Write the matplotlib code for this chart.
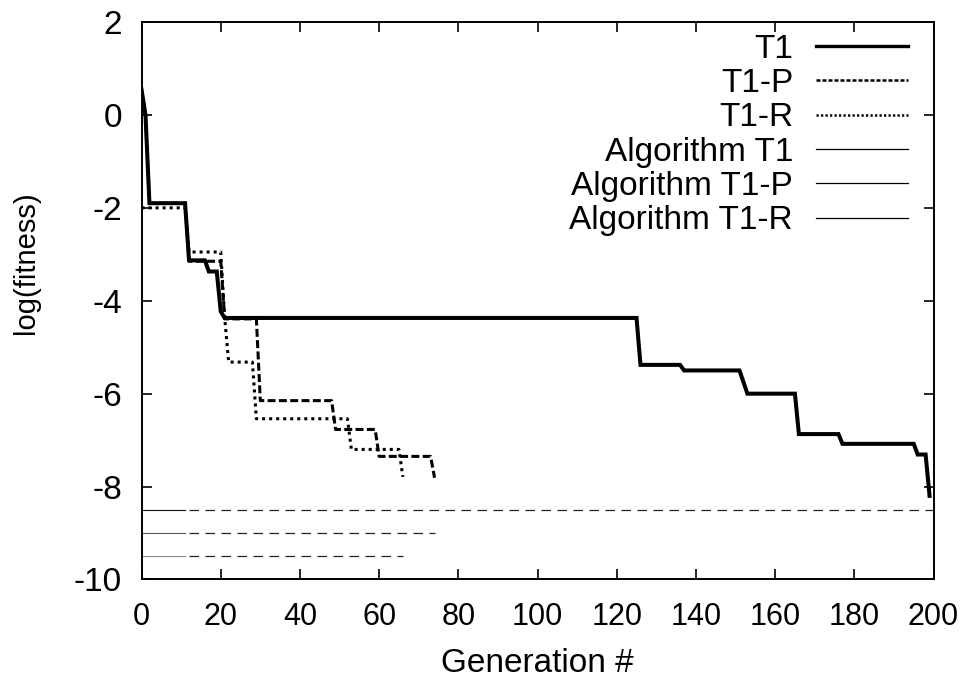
import numpy as np
import matplotlib
matplotlib.use("Agg")
import matplotlib.pyplot as plt
from matplotlib.lines import Line2D

plt.rcParams['font.family'] = ['Liberation Sans', 'DejaVu Sans']
plt.rcParams['axes.unicode_minus'] = False

# best fitness per run, given at the generations where it changes
t1_gen = [0, 1, 2, 11, 12, 16, 17, 19, 20, 21, 125, 126, 136, 137, 151, 153,
          165, 166, 176, 177, 195, 196, 198, 199]
t1_fit = [0.55, 0.0, -1.9, -1.9, -3.13, -3.13, -3.37, -3.37, -4.23, -4.37, -4.37, -5.38,
          -5.38, -5.5, -5.5, -6.0, -6.0, -6.87, -6.87, -7.08, -7.08, -7.31, -7.31, -8.2]

t1p_gen = [0, 1, 2, 11, 12, 20, 21, 29, 30, 48, 49, 59, 60, 73, 74]
t1p_fit = [0.55, 0.0, -1.9, -1.9, -3.15, -3.15, -4.39, -4.39, -6.15, -6.15, -6.77,
           -6.77, -7.35, -7.35, -7.81]

t1r_gen = [0, 11, 12, 20, 21, 22, 28, 29, 52, 53, 65, 66]
t1r_fit = [-2.0, -2.0, -2.95, -2.95, -4.37, -5.32, -5.32, -6.54, -6.54, -7.2, -7.2, -7.79]

# reference levels for the algorithm runs and the last generation each reached
alg_labels = ['Algorithm T1', 'Algorithm T1-P', 'Algorithm T1-R']
alg_level = [-8.5, -9.0, -9.5]
alg_end = [200, 74, 66]

fig = plt.figure(figsize=(9.7, 6.82), dpi=100)
ax = fig.add_axes([0.1459, 0.1503, 0.8165, 0.8174])

ax.plot(t1_gen, t1_fit, color='black', lw=2.9, solid_joinstyle='miter')
ax.plot(t1p_gen, t1p_fit, color='black', lw=2.2, ls=(0, (2.6, 1.1)),
        dash_capstyle='butt')
ax.plot(t1r_gen, t1r_fit, color='black', lw=2.2, ls=(0, (1.0, 1.3)),
        dash_capstyle='butt')

solid_until = 11
solid_cols = ['#111111', '#555555', '#888888']
for lev, end, sc in zip(alg_level, alg_end, solid_cols):
    ax.plot([0, solid_until], [lev, lev], color=sc, lw=0.8)
    ax.plot([solid_until + 1, end], [lev, lev], color='#222222', lw=0.9,
            ls=(0, (7.6, 5.2)))

# key samples are drawn a bit finer than the curves
handles = [
    Line2D([], [], color='black', lw=2.4),
    Line2D([], [], color='black', lw=1.8, ls=(0, (1.6, 0.8)), dash_capstyle='butt'),
    Line2D([], [], color='black', lw=1.8, ls=(0, (0.9, 0.9)), dash_capstyle='butt'),
] + [Line2D([], [], color='black', lw=0.9) for _ in alg_labels]
labels = ['T1', 'T1-P', 'T1-R'] + alg_labels

ax.set_xlim(0, 200)
ax.set_ylim(-10, 2)
ax.set_xticks(np.arange(0, 201, 20))
ax.set_yticks(np.arange(-10, 3, 2))
ax.tick_params(direction='in', length=7, width=1.2, top=True, right=True)
ax.tick_params(axis='y', pad=14, labelsize=24)
ax.tick_params(axis='x', pad=16, labelsize=22)
for s in ax.spines.values():
    s.set_linewidth(1.4)

ax.set_xlabel('Generation #', fontsize=24, labelpad=12)
ax.set_ylabel('log(fitness)', fontsize=21)
ax.yaxis.set_label_coords(-0.128, 0.568)

ax.legend(handles, labels, loc='upper right', bbox_to_anchor=(0.9678, 0.979),
          frameon=False, markerfirst=False, fontsize=24, handlelength=2.76,
          handletextpad=0.69, labelspacing=0.1, borderpad=0, borderaxespad=0)

fig.savefig('out.png', dpi=100)
